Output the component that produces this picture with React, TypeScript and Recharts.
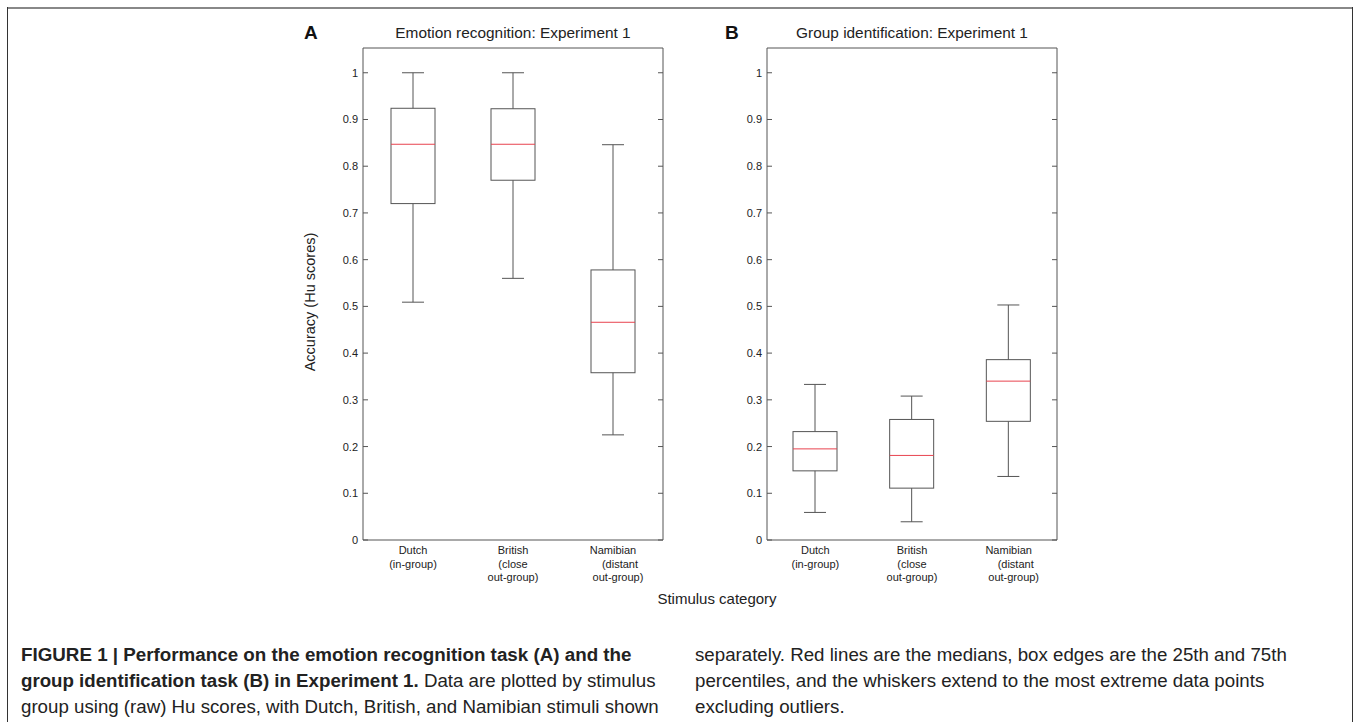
import { ComposedChart, Bar, XAxis, YAxis, ReferenceArea } from 'recharts';

const categories = ['Dutch', 'British', 'Namibian'];
const categoryLines = [
    ['Dutch', '(in-group)'],
    ['British', '(close', 'out-group)'],
    ['Namibian', '(distant', 'out-group)'],
];
const yTicks = [0, 0.1, 0.2, 0.3, 0.4, 0.5, 0.6, 0.7, 0.8, 0.9, 1];

// Experiment 1, emotion recognition (A)
const emotionMin = [0.509, 0.56, 0.225];
const emotionQ1 = [0.72, 0.77, 0.358];
const emotionMedian = [0.847, 0.847, 0.466];
const emotionQ3 = [0.924, 0.923, 0.578];
const emotionMax = [1.0, 1.0, 0.846];

// Experiment 1, group identification (B)
const groupMin = [0.059, 0.039, 0.136];
const groupQ1 = [0.148, 0.111, 0.254];
const groupMedian = [0.195, 0.181, 0.34];
const groupQ3 = [0.232, 0.258, 0.386];
const groupMax = [0.333, 0.308, 0.503];

const FONT = '"Liberation Sans", Arial, Helvetica, sans-serif';
const EDGE = '#555';
const MEDIAN = '#e8434f';

// small horizontal nudges for the centred multi-line labels
const lineShift: Record<string, number[]> = {
    Namibian: [0, 7, 5],
};

function buildRows(mins: number[], q1: number[], med: number[], q3: number[], maxs: number[]) {
    return categories.map((name, i) => ({
        name,
        min: mins[i],
        q1: q1[i],
        median: med[i],
        q3: q3[i],
        max: maxs[i],
    }));
}

function BoxShape(props: any) {
    const { x, y, width, height, payload } = props;
    const { min, max, q1, median, q3 } = payload;
    const px = (v: number) => y + ((max - v) / (max - min)) * height;
    const cx = x + width / 2;
    const cap = 11;
    return (
        <g>
            <line x1={cx} x2={cx} y1={px(max)} y2={px(q3)} stroke={EDGE} strokeWidth={1} />
            <line x1={cx} x2={cx} y1={px(q1)} y2={px(min)} stroke={EDGE} strokeWidth={1} />
            <line x1={cx - cap} x2={cx + cap} y1={px(max)} y2={px(max)} stroke={EDGE} strokeWidth={1} />
            <line x1={cx - cap} x2={cx + cap} y1={px(min)} y2={px(min)} stroke={EDGE} strokeWidth={1} />
            <rect x={x} y={px(q3)} width={width} height={px(q1) - px(q3)} fill="none" stroke={EDGE} strokeWidth={1} />
            <line x1={x} x2={x + width} y1={px(median)} y2={px(median)} stroke={MEDIAN} strokeWidth={1} />
        </g>
    );
}

function makeYTick(plotWidth: number) {
    return (props: any) => {
        const { x, y, payload } = props;
        return (
            <g>
                <line x1={x} x2={x + 5} y1={y} y2={y} stroke={EDGE} />
                <line x1={x + plotWidth - 5} x2={x + plotWidth} y1={y} y2={y} stroke={EDGE} />
                <text x={x - 5} y={y + 4} textAnchor="end" fontSize={11} fontFamily={FONT} fill="#222">
                    {String(payload.value)}
                </text>
            </g>
        );
    };
}

function XTick(props: any) {
    const { x, y, payload } = props;
    const idx = categories.indexOf(payload.value);
    const lines = categoryLines[idx] || [payload.value];
    const shifts = lineShift[payload.value] || [];
    return (
        <g>
            {lines.map((t, i) => (
                <text key={i} x={x + (shifts[i] || 0)} y={y + 14 + i * 13.5} textAnchor="middle" fontSize={11} fontFamily={FONT} fill="#222">
                    {t}
                </text>
            ))}
        </g>
    );
}

function Panel({ rows, plotWidth, left }: { rows: any[]; plotWidth: number; left: number }) {
    const chartWidth = 400;
    return (
        <div style={{ position: 'absolute', left, top: 0 }}>
            <ComposedChart
                width={chartWidth}
                height={640}
                data={rows}
                margin={{ top: 48, left: 3, right: chartWidth - 63 - plotWidth, bottom: 40 }}
            >
                <XAxis dataKey="name" axisLine={false} tickLine={false} tickSize={0} tickMargin={0} height={60} tick={XTick} interval={0} />
                <YAxis
                    type="number"
                    domain={[0, 1.053]}
                    ticks={yTicks}
                    width={60}
                    axisLine={false}
                    tickLine={false}
                    tickSize={0}
                    tickMargin={0}
                    tick={makeYTick(plotWidth)}
                    allowDataOverflow
                />
                <ReferenceArea y1={0} y2={1.053} fill="none" stroke={EDGE} strokeWidth={1} ifOverflow="visible" />
                <Bar dataKey={(d: any) => [d.min, d.max]} barSize={44} shape={BoxShape} isAnimationActive={false} />
            </ComposedChart>
        </div>
    );
}

export default function App() {
    const emotionRows = buildRows(emotionMin, emotionQ1, emotionMedian, emotionQ3, emotionMax);
    const groupRows = buildRows(groupMin, groupQ1, groupMedian, groupQ3, groupMax);
    const caption = { fontFamily: FONT, fontSize: 18.7, color: '#222', lineHeight: '26px', whiteSpace: 'nowrap' as const };

    return (
        <div style={{ position: 'absolute', left: 0, top: 0, width: 1355, height: 722, background: '#fff', overflow: 'hidden', fontFamily: FONT }}>
            {/* figure frame */}
            <div style={{ position: 'absolute', left: 8, top: 7, width: 1345, height: 1, borderTop: '2px solid #888' }} />
            <div style={{ position: 'absolute', left: 7, top: 7, width: 1, height: 715, background: '#333' }} />
            <div style={{ position: 'absolute', left: 1352, top: 7, width: 1, height: 715, background: '#333' }} />

            <Panel rows={emotionRows} plotWidth={300} left={300} />
            <Panel rows={groupRows} plotWidth={290} left={704} />

            <div style={{ position: 'absolute', left: 304, top: 22, fontSize: 19, fontWeight: 'bold', color: '#111' }}>A</div>
            <div style={{ position: 'absolute', left: 725, top: 22, fontSize: 19, fontWeight: 'bold', color: '#111' }}>B</div>
            <div style={{ position: 'absolute', left: 363, width: 300, top: 24, fontSize: 15.4, textAlign: 'center', color: '#222' }}>
                Emotion recognition: Experiment 1
            </div>
            <div style={{ position: 'absolute', left: 767, width: 290, top: 24, fontSize: 15.4, textAlign: 'center', color: '#222' }}>
                Group identification: Experiment 1
            </div>
            <div
                style={{
                    position: 'absolute',
                    left: 310,
                    top: 302,
                    fontSize: 14.5,
                    color: '#222',
                    whiteSpace: 'nowrap',
                    transform: 'translate(-50%, -50%) rotate(-90deg)',
                }}
            >
                Accuracy (Hu scores)
            </div>
            <div style={{ position: 'absolute', left: 617, width: 200, top: 590, fontSize: 15, textAlign: 'center', color: '#222' }}>
                Stimulus category
            </div>

            <div style={{ position: 'absolute', left: 21, top: 642, ...caption }}>
                <div style={{ fontWeight: 'bold', fontSize: 18.8 }}>FIGURE 1 | Performance on the emotion recognition task (A) and the</div>
                <div>
                    <b>group identification task (B) in Experiment 1.</b> Data are plotted by stimulus
                </div>
                <div>group using (raw) Hu scores, with Dutch, British, and Namibian stimuli shown</div>
            </div>
            <div style={{ position: 'absolute', left: 695, top: 642, ...caption }}>
                <div>separately. Red lines are the medians, box edges are the 25th and 75th</div>
                <div>percentiles, and the whiskers extend to the most extreme data points</div>
                <div>excluding outliers.</div>
            </div>
        </div>
    );
}
